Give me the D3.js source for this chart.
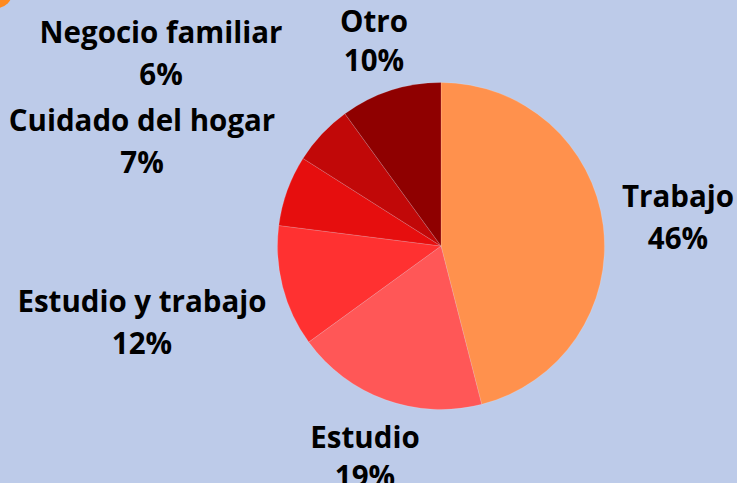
<!DOCTYPE html>
<html>
<head>
<meta charset="utf-8">
<script src="https://cdn.jsdelivr.net/npm/d3@7"></script>
<style>
  body { margin: 0; background: #bdcbe9; }
  svg { display: block; }
</style>
</head>
<body>
<div id="chart"></div>
<script>
var svgWidth = 737;
var svgHeight = 483;

// Data
var categories = ["Trabajo", "Estudio", "Estudio y trabajo", "Cuidado del hogar", "Negocio familiar", "Otro"];
var values = [46, 19, 12, 7, 6, 10];
var colors = ["#ff914d", "#ff5757", "#ff3131", "#e60e0e", "#c10808", "#8f0000"];

// label anchor (centre of the first line of the label)
var labelPos = [[678, 197], [365, 438], [142, 302], [142, 121], [161, 33], [374, 22]];

var cx = 441, cy = 246, radius = 163.5;

var svg = d3.select("#chart")
    .append("svg")
    .attr("width", svgWidth)
    .attr("height", svgHeight);

svg.append("rect")
    .attr("width", svgWidth)
    .attr("height", svgHeight)
    .attr("fill", "#bdcbe9");

// orange dot peeking in the corner
svg.append("circle")
    .attr("cx", -3)
    .attr("cy", -7)
    .attr("r", 15)
    .attr("fill", "#ff8a1f");

var color = d3.scaleOrdinal()
    .domain(categories)
    .range(colors);

var pie = d3.pie()
    .value(d => d.value)
    .sort(null);

var data = categories.map((c, i) => ({ name: c, value: values[i], pos: labelPos[i] }));

var arc = d3.arc()
    .innerRadius(0)
    .outerRadius(radius);

var pieGroup = svg.append("g")
    .attr("transform", `translate(${cx}, ${cy})`);

pieGroup.selectAll("path")
    .data(pie(data))
    .enter()
    .append("path")
    .attr("d", arc)
    .attr("fill", d => color(d.data.name))
    .attr("stroke", "rgba(255,255,255,0.25)")
    .attr("stroke-width", 0.6);

// Labels
var labels = svg.selectAll(".slice-label")
    .data(data)
    .enter()
    .append("text")
    .classed("slice-label", true)
    .attr("x", d => d.pos[0])
    .attr("y", d => d.pos[1])
    .attr("text-anchor", "middle")
    .attr("font-family", "'Open Sans', sans-serif")
    .attr("font-weight", "bold")
    .attr("font-size", "29.5px")
    .attr("fill", "#000");

labels.append("tspan")
    .attr("x", d => d.pos[0])
    .attr("dy", "0.35em")
    .text(d => d.name);

labels.append("tspan")
    .attr("x", d => d.pos[0])
    .attr("dy", d => d.name === "Estudio" || d.name === "Otro" ? "1.3em" : "1.4em")
    .text(d => d.value + "%");
</script>
</body>
</html>
